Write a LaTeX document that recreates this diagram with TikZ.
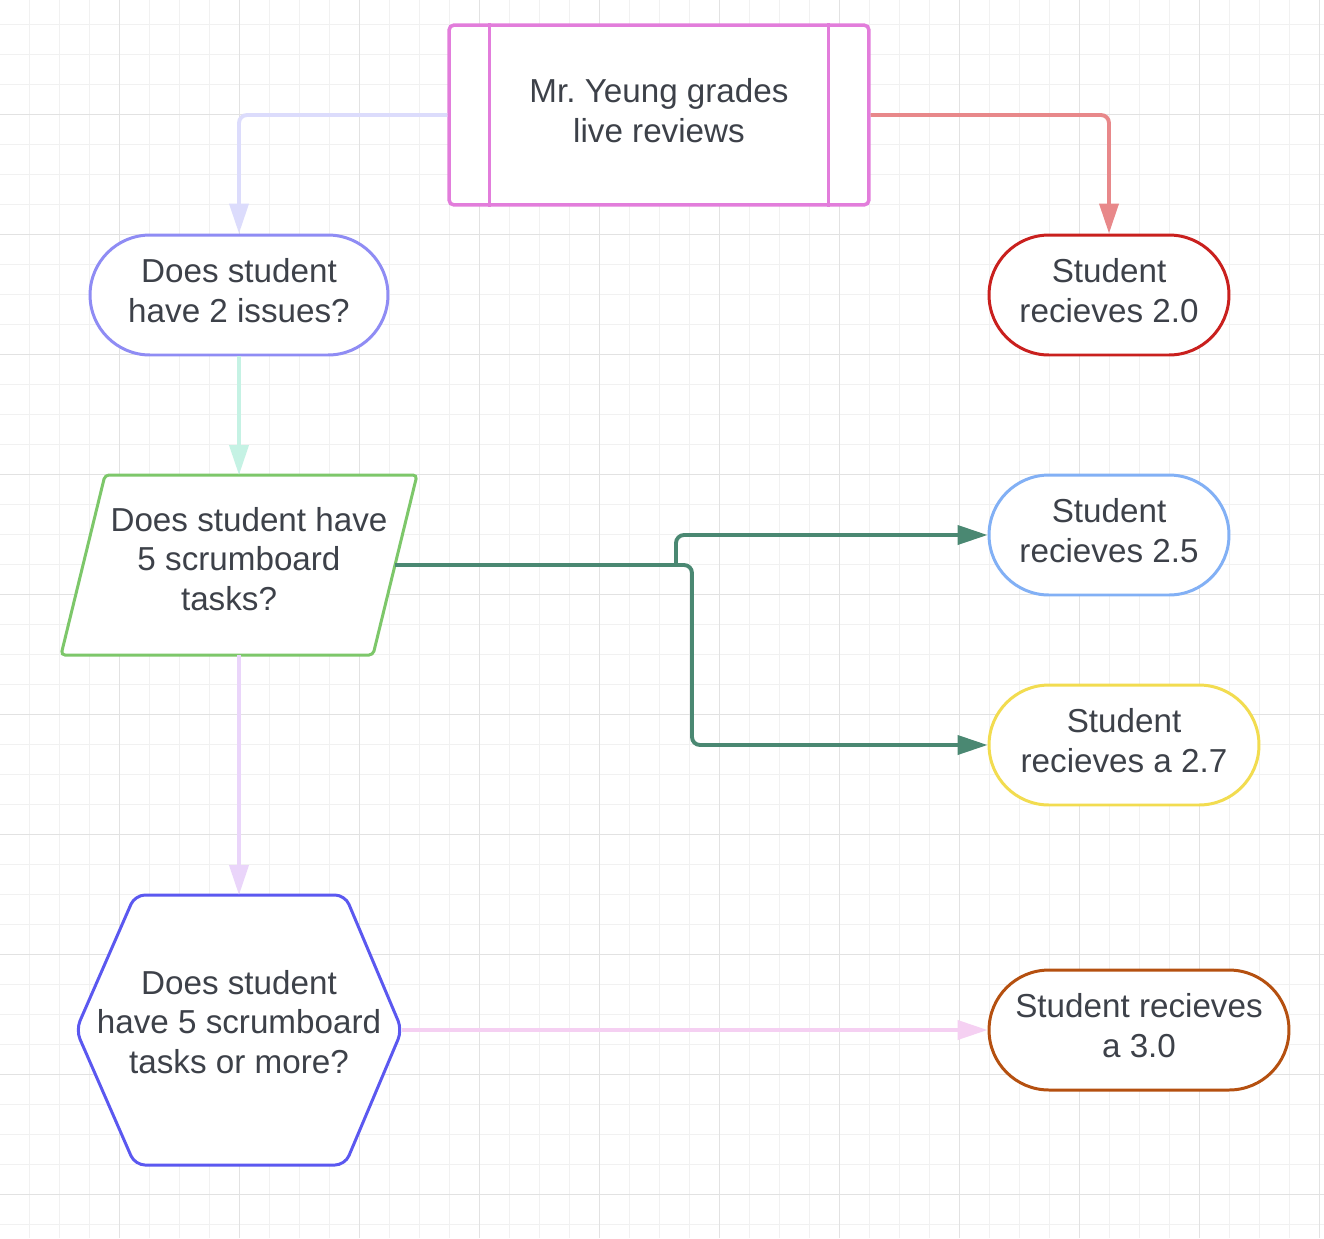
\documentclass[tikz,border=0pt]{standalone}
\usepackage{fontspec}
\setmainfont{Liberation Sans}
\usetikzlibrary{arrows.meta,positioning,calc}
\usepackage{xcolor}
\definecolor{txt}{HTML}{3D4149}
\definecolor{gridmin}{HTML}{F1F1F1}
\definecolor{gridmaj}{HTML}{E2E2E2}
\definecolor{reviewc}{HTML}{E27DDB}
\definecolor{issuesc}{HTML}{8F8CF4}
\definecolor{tasksc}{HTML}{7DC76A}
\definecolor{hexc}{HTML}{5B58F0}
\definecolor{gradeA}{HTML}{C9201E}
\definecolor{gradeB}{HTML}{82B0F5}
\definecolor{gradeC}{HTML}{F2DC50}
\definecolor{gradeD}{HTML}{B55010}
\definecolor{lavc}{HTML}{DCDCFC}
\definecolor{salmonc}{HTML}{E8888A}
\definecolor{mintc}{HTML}{C5F2E4}
\definecolor{lilacc}{HTML}{EAD5FA}
\definecolor{pinkc}{HTML}{F5D0F2}
\definecolor{dkgreen}{HTML}{4A8872}

\begin{document}
\begin{tikzpicture}[x=0.02cm, y=-0.02cm,
  font=\fontsize{18.9pt}{22.7pt}\selectfont,
  box/.style={draw, line width=1.7pt, text=txt, align=center, inner sep=0pt, fill=white},
  stadium/.style={box, rounded corners=1.2cm, minimum height=2.4cm},
  label/.style={text=txt, align=center, inner sep=0pt},
  shapeline/.style={line width=1.7pt, fill=white},
  flow/.style={line width=2.2pt, rounded corners=0.16cm, -{Triangle[length=0.6cm,width=0.38cm]}}]
\useasboundingbox[fill=white] (0,0) rectangle (1324,1238);
% grid
\foreach \gx in {29,59,...,1319} \draw[gridmin, line width=0.5pt] (\gx,0) -- (\gx,1238);
\foreach \gy in {24,54,...,1224} \draw[gridmin, line width=0.5pt] (0,\gy) -- (1324,\gy);
\foreach \gx in {119,239,...,1319} \draw[gridmaj, line width=0.5pt] (\gx,0) -- (\gx,1238);
\foreach \gy in {114,234,...,1194} \draw[gridmaj, line width=0.5pt] (0,\gy) -- (1324,\gy);

% top process box
\node[box, draw=reviewc, line width=2pt, rounded corners=0.1cm, minimum width=8.4cm, minimum height=3.6cm] (review) at (659,115) {};
\node[label] (reviewtxt) at (659,111) {Mr.\ Yeung grades\\live reviews};
\draw[reviewc, line width=2pt] ([xshift=0.84cm]review.north west) -- ([xshift=0.84cm]review.south west);
\draw[reviewc, line width=2pt] ([xshift=-0.84cm]review.north east) -- ([xshift=-0.84cm]review.south east);

\node[stadium, draw=issuesc, minimum width=5.96cm] (issues) at (239,295) {};
\node[label] (issuestxt) at (239,291) {Does student\\have 2 issues?};

% parallelogram
\draw[tasksc, shapeline, rounded corners=0.08cm] (105,475) -- (417,475) -- (373,655) -- (61,655) -- cycle;
\node[label] (tasks) at (239,559) {\rule{0.4cm}{0pt}Does student have\\5 scrumboard\\tasks?\rule{0.4cm}{0pt}};
\coordinate (tasksT) at (239,475);
\coordinate (tasksB) at (239,655);
\coordinate (tasksR) at (395,565);

% hexagon
\draw[hexc, shapeline, rounded corners=0.2cm] (135,895) -- (345,895) -- (402,1030) -- (345,1165) -- (135,1165) -- (76,1030) -- cycle;
\node[label] (hex) at (239,1022) {Does student\\have 5 scrumboard\\tasks or more?};
\coordinate (hexT) at (239,895);
\coordinate (hexR) at (402,1030);

% outcomes
\node[stadium, draw=gradeA, minimum width=4.8cm] (grade20) at (1109,295) {};
\node[label] (grade20txt) at (1109,291) {Student\\recieves 2.0};
\node[stadium, draw=gradeB, minimum width=4.8cm] (grade25) at (1109,535) {};
\node[label] (grade25txt) at (1109,531) {Student\\recieves 2.5};
\node[stadium, draw=gradeC, minimum width=5.4cm] (grade27) at (1124,745) {};
\node[label] (grade27txt) at (1124,741) {Student\\recieves a 2.7};
\node[stadium, draw=gradeD, minimum width=6.0cm] (grade30) at (1139,1030) {};
\node[label] (grade30txt) at (1139,1026) {Student recieves\\a 3.0};

% connectors
\coordinate (split) at (676,565);
\coordinate (bend27) at (692,745);
\draw[flow, lavc] (review.west) -| (issues.north);
\draw[flow, salmonc] (review.east) -| (grade20.north);
\draw[flow, mintc] (issues.south) -- (tasksT);
\draw[flow, lilacc] (tasksB) -- (hexT);
\draw[flow, pinkc] (hexR) -- (grade30.west);
\draw[flow, dkgreen] (tasksR) -| (bend27) -- (grade27.west);
\draw[flow, dkgreen] (split) |- (grade25.west);
\end{tikzpicture}
\end{document}
